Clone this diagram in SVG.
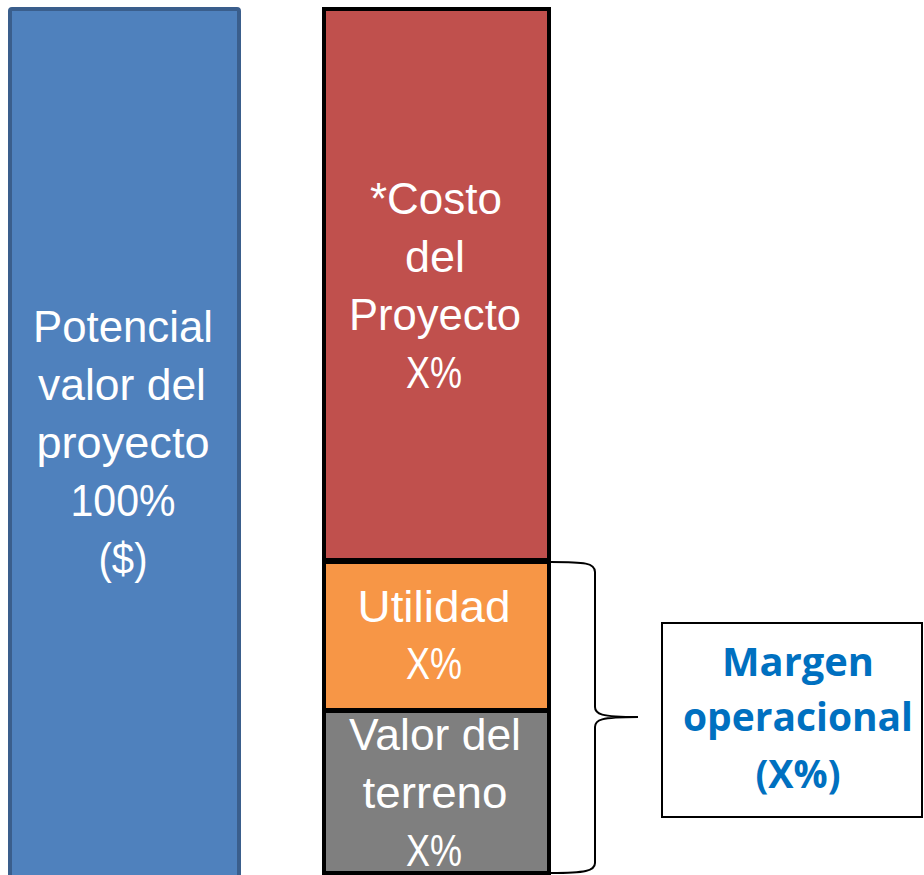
<svg xmlns="http://www.w3.org/2000/svg" width="924" height="875" viewBox="0 0 924 875">
<style>
.w{font-family:"Liberation Sans","Open Sans",sans-serif;font-size:44px;fill:#fff;text-anchor:middle}
.b{font-family:"Open Sans","Liberation Sans",sans-serif;font-size:40px;font-weight:bold;fill:#0070C0;text-anchor:middle}
</style>
<rect width="924" height="875" fill="#fff"/>
<g id="potencial">
<rect x="10" y="9" width="229" height="880" fill="#4F81BD" stroke="#3A5E8C" stroke-width="4" rx="2"/>
<text class="w" x="123" y="342" textLength="180" lengthAdjust="spacingAndGlyphs">Potencial</text>
<text class="w" x="122" y="400" textLength="168" lengthAdjust="spacingAndGlyphs">valor del</text>
<text class="w" x="123" y="458" textLength="173" lengthAdjust="spacingAndGlyphs">proyecto</text>
<text class="w" x="123" y="516" textLength="105" lengthAdjust="spacingAndGlyphs">100%</text>
<text class="w" x="123" y="574" textLength="49" lengthAdjust="spacingAndGlyphs">($)</text>
</g>
<g id="costo">
<rect x="324" y="9" width="225" height="551" fill="#C0504D" stroke="#000" stroke-width="4"/>
<text class="w" x="436" y="214" textLength="132" lengthAdjust="spacingAndGlyphs">*Costo</text>
<text class="w" x="435" y="272" textLength="60" lengthAdjust="spacingAndGlyphs">del</text>
<text class="w" x="435" y="330" textLength="172" lengthAdjust="spacingAndGlyphs">Proyecto</text>
<text class="w" x="434" y="388" textLength="56" lengthAdjust="spacingAndGlyphs">X%</text>
</g>
<g id="utilidad">
<rect x="324" y="562" width="225" height="148" fill="#F79646" stroke="#000" stroke-width="4"/>
<text class="w" x="434" y="622" textLength="153" lengthAdjust="spacingAndGlyphs">Utilidad</text>
<text class="w" x="434" y="679" textLength="56" lengthAdjust="spacingAndGlyphs">X%</text>
</g>
<g id="terreno">
<rect x="324" y="711" width="225" height="162" fill="#7F7F7F" stroke="#000" stroke-width="4"/>
<text class="w" x="435" y="750" textLength="172" lengthAdjust="spacingAndGlyphs">Valor del</text>
<text class="w" x="435" y="808" textLength="145" lengthAdjust="spacingAndGlyphs">terreno</text>
<text class="w" x="434" y="866" textLength="56" lengthAdjust="spacingAndGlyphs">X%</text>
</g>
<g id="connectors">
<path d="M551,562 C585,562 595,563 595,572 L595,707 C595,714 600,717 638,717 C600,717 595,720 595,727 L595,863 C595,871 585,873 551,873" fill="none" stroke="#000" stroke-width="2"/>
</g>
<g id="margen">
<rect x="662" y="623" width="260" height="194" fill="#fff" stroke="#000" stroke-width="2"/>
<text class="b" x="798" y="676" textLength="152" lengthAdjust="spacingAndGlyphs">Margen</text>
<text class="b" x="798" y="731" textLength="230" lengthAdjust="spacingAndGlyphs">operacional</text>
<text class="b" x="798" y="788" textLength="85" lengthAdjust="spacingAndGlyphs">(X%)</text>
</g>
</svg>
